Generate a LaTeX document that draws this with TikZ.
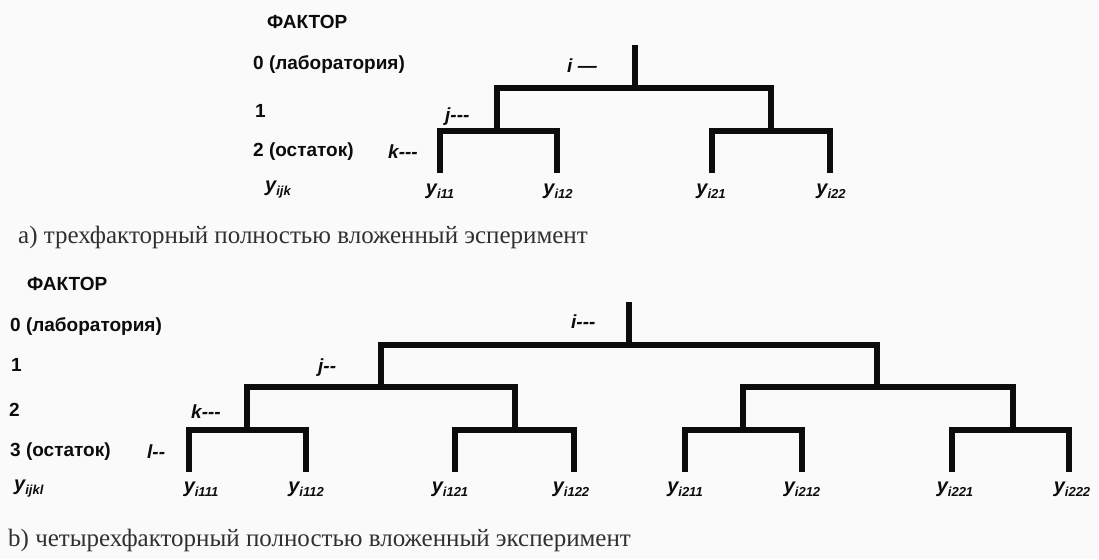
\documentclass[tikz,border=0pt]{standalone}
\usepackage{fontspec}
\setmainfont{Liberation Sans}
\newfontfamily\capfont{Liberation Serif}
\definecolor{bgc}{RGB}{250,250,250}
\definecolor{ink}{RGB}{12,12,12}
\begin{document}
\begin{tikzpicture}[x=1pt,y=-1pt,
  br/.style={draw=ink,line width=5.5pt,line join=miter},
  lbl/.style={anchor=west,inner sep=0pt,text=ink,font=\fontsize{19}{22}\selectfont\bfseries},
  tick/.style={anchor=west,inner sep=0pt,text=ink,font=\fontsize{19}{22}\selectfont\bfseries\itshape},
  leaf/.style={anchor=center,inner sep=0pt,text=ink,font=\fontsize{20}{22}\selectfont\bfseries\itshape},
  capt/.style={anchor=west,inner sep=0pt,text=ink!85,font=\capfont\fontsize{25}{28}\selectfont}]
\fill[bgc] (0,0) rectangle (1099,559);
\newcommand\sbs[1]{\raisebox{-4pt}{\fontsize{13}{13}\selectfont #1}}
% ---------- (a) ----------
\node[lbl] (aF)  at (267,22)  {ФАКТОР};
\node[lbl] (a0)  at (253,65)  {0 (лаборатория)};
\node[lbl] (a1)  at (255,111) {1};
\node[lbl] (a2)  at (253,152) {2 (остаток)};
\node[leaf,anchor=west] (ay) at (265,190) {y\sbs{ijk}};
\node[tick] (ai) at (567,66)  {i —};
\node[tick] (aj) at (445,117) {j-{}-{}-};
\node[tick] (ak) at (388,152) {k-{}-{}-};
\coordinate (aT)  at (635,45);
\coordinate (aR)  at (635,88);
\coordinate (aL1) at (497,131);
\coordinate (aR1) at (771,131);
\coordinate (a11) at (440,173);
\coordinate (a12) at (557,173);
\coordinate (a21) at (712,173);
\coordinate (a22) at (830,173);
\draw[br] (aT) -- (aR);
\draw[br] (aL1) |- (aR) -| (aR1);
\draw[br] (a11) |- (aL1) -| (a12);
\draw[br] (a21) |- (aR1) -| (a22);
\node[leaf] (ya11) at (440,191) {y\sbs{i11}};
\node[leaf] (ya12) at (558,191) {y\sbs{i12}};
\node[leaf] (ya21) at (711,191) {y\sbs{i21}};
\node[leaf] (ya22) at (831,191) {y\sbs{i22}};
\node[capt] (capa) at (18,237) {а) трехфакторный полностью вложенный эсперимент};
% ---------- (b) ----------
\node[lbl] (bF)  at (27,284)  {ФАКТОР};
\node[lbl] (b0)  at (10,327)  {0 (лаборатория)};
\node[lbl] (b1)  at (11,365)  {1};
\node[lbl] (b2)  at (9,410)   {2};
\node[lbl] (b3)  at (10,452)  {3 (остаток)};
\node[leaf,anchor=west] (by) at (14,489) {y\sbs{ijkl}};
\node[tick] (bi) at (571,322) {i-{}-{}-};
\node[tick] (bj) at (318,368) {j-{}-};
\node[tick] (bk) at (191,412) {k-{}-{}-};
\node[tick] (bl) at (147,452) {l-{}-};
\coordinate (bT)  at (629,302);
\coordinate (bR)  at (629,345);
\coordinate (bL)  at (381,387);
\coordinate (bRr) at (877,387);
\coordinate (bLL) at (247,430);
\coordinate (bLR) at (515,430);
\coordinate (bRL) at (743,430);
\coordinate (bRR) at (1013,430);
\coordinate (b111) at (189,472);
\coordinate (b112) at (306,472);
\coordinate (b121) at (455,472);
\coordinate (b122) at (574,472);
\coordinate (b211) at (685,472);
\coordinate (b212) at (802,472);
\coordinate (b221) at (952,472);
\coordinate (b222) at (1069,472);
\draw[br] (bT) -- (bR);
\draw[br] (bL) |- (bR) -| (bRr);
\draw[br] (bLL) |- (bL) -| (bLR);
\draw[br] (bRL) |- (bRr) -| (bRR);
\draw[br] (b111) |- (bLL) -| (b112);
\draw[br] (b121) |- (bLR) -| (b122);
\draw[br] (b211) |- (bRL) -| (b212);
\draw[br] (b221) |- (bRR) -| (b222);
\node[leaf] (yb111) at (201,489)  {y\sbs{i111}};
\node[leaf] (yb112) at (306,489)  {y\sbs{i112}};
\node[leaf] (yb121) at (450,489)  {y\sbs{i121}};
\node[leaf] (yb122) at (571,489)  {y\sbs{i122}};
\node[leaf] (yb211) at (685,489)  {y\sbs{i211}};
\node[leaf] (yb212) at (802,489)  {y\sbs{i212}};
\node[leaf] (yb221) at (955,489)  {y\sbs{i221}};
\node[leaf] (yb222) at (1072,489) {y\sbs{i222}};
\node[capt] (capb) at (8,540) {b) четырехфакторный полностью вложенный эксперимент};
\end{tikzpicture}
\end{document}
